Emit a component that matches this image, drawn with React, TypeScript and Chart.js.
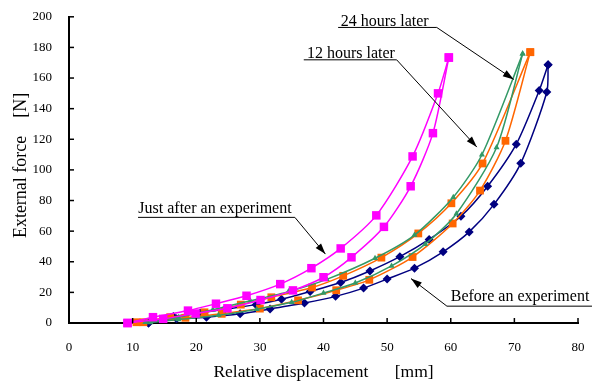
import React, { useEffect, useRef } from 'react';
import { Chart, registerables } from 'chart.js';

Chart.register(...registerables);

// ---- Data (x: relative displacement [mm], y: external force [N]) ----
const justAfterUpper: [number, number][] = [
  [9.2, 0], [13.2, 3.8], [18.7, 8.1], [23.1, 12.6], [27.9, 17.8], [33.2, 25.4],
  [38.1, 35.8], [42.7, 48.7], [48.3, 70.3], [54.0, 108.8], [58.0, 150], [59.7, 173.4],
];
const justAfterLower: [number, number][] = [
  [9.2, 0], [14.8, 2.7], [19.9, 6.2], [24.9, 9.6], [30.1, 15.0], [35.2, 21.3],
  [40.0, 29.9], [44.4, 42.9], [49.5, 62.8], [53.7, 89.3], [57.2, 124], [59.7, 173.4],
];
const hours12Upper: [number, number][] = [
  [10.6, 0.5], [15.9, 3.8], [21.3, 7.0], [27.0, 12.0], [31.8, 16.8], [38.2, 23.2],
  [43.1, 30.8], [49.1, 42.7], [54.9, 58.5], [60.1, 78.2], [65.0, 104.2], [72.5, 176.9],
];
const hours12Lower: [number, number][] = [
  [11.7, 0.5], [18.3, 3.4], [24.0, 6.0], [30.0, 9.4], [36.0, 14.8], [42.0, 21.4],
  [47.2, 28.2], [54.0, 43.1], [60.3, 65.0], [64.6, 86.5], [68.6, 119.0], [72.5, 176.9],
];
const hours24Upper: [number, number][] = [
  [12.0, 0.5], [17.2, 3.8], [22.6, 8.7], [28.5, 14.5], [34.5, 20.5], [40.5, 28.5],
  [48.1, 42.3], [54.3, 57.4], [60.4, 82.2], [64.9, 109.9], [71.3, 175.8],
];
const hours24Lower: [number, number][] = [
  [12.8, 0.3], [17.2, 2.3], [23.5, 5.0], [29.5, 9.0], [35.0, 13.5], [40.0, 19.6],
  [45.0, 26.1], [50.7, 37.3], [56.0, 51.5], [60.9, 71.4], [67.2, 114.6], [71.3, 175.8],
];
const beforeUpper: [number, number][] = [
  [12.5, 0], [16.4, 4.2], [20.6, 6.6], [24.5, 9.0], [29.4, 12.0], [33.4, 15.5],
  [37.9, 20.6], [42.7, 26.5], [47.3, 34.0], [52.0, 43.3], [56.6, 54.6], [61.6, 69.7],
  [65.8, 89.3], [70.3, 116.8], [73.9, 151.8], [75.3, 168.7],
];
const beforeLower: [number, number][] = [
  [12.5, 0], [16.9, 2.7], [21.6, 3.8], [26.9, 6.0], [31.6, 9.2], [37.0, 13.1],
  [41.9, 17.4], [46.3, 22.8], [50.0, 28.7], [54.3, 35.8], [58.8, 46.5], [62.9, 59.5],
  [66.8, 77.5], [71.0, 104.3], [75.1, 150.9], [75.3, 168.7],
];

const xMin = 0, xMax = 80, xStep = 10;
const yMin = 0, yMax = 200, yStep = 20;

const xTitle = 'Relative displacement      [mm]';
const yTitle = '  External force    [N]';

// Callout labels: text anchored in data units, arrow tip in data units
const callouts = [
  { text: '24 hours later', tx: 42.7, ty: 194.2, uy: 193.05, ux0: 42.3, ux1: 57.8, from: 'right', tipX: 69.9, tipY: 159.1 },
  { text: '12 hours later', tx: 37.4, ty: 172.9, uy: 171.9, ux0: 36.9, ux1: 51.5, from: 'right', tipX: 64.1, tipY: 114.9 },
  { text: 'Just after an experiment', tx: 10.9, ty: 71.9, uy: 69.0, ux0: 10.85, ux1: 35.5, from: 'right', tipX: 40.3, tipY: 45.0 },
  { text: 'Before an experiment', tx: 60.0, ty: 14.6, uy: 11.0, ux0: 59.4, ux1: 82.2, from: 'left', tipX: 53.75, tipY: 29.0 },
];

const SERIF = '"Liberation Serif", "Times New Roman", serif';

const MAGENTA = '#FF00FF';
const ORANGE = '#FF6600';
const GREEN = '#339966';
const NAVY = '#000080';

function series(data: [number, number][], color: string, style: string, radius: number) {
  return {
    data: data.map(([x, y]) => ({ x, y })),
    borderColor: color,
    backgroundColor: color,
    pointBackgroundColor: color,
    pointBorderColor: color,
    pointStyle: style,
    pointRadius: radius,
    pointBorderWidth: 0,
    borderWidth: 1.5,
    showLine: true,
    tension: 0.25,
    clip: false as const,
  };
}

const overlayPlugin = {
  id: 'overlay',
  afterDraw(chart: any) {
    const { ctx, chartArea } = chart;
    const xs = chart.scales.x;
    const ys = chart.scales.y;
    ctx.save();
    // inward tick marks
    ctx.strokeStyle = '#000';
    ctx.lineWidth = 1.5;
    xs.ticks.forEach((t: any) => {
      const px = xs.getPixelForValue(t.value);
      ctx.beginPath();
      ctx.moveTo(px, chartArea.bottom);
      ctx.lineTo(px, chartArea.bottom - 5);
      ctx.stroke();
    });
    ys.ticks.forEach((t: any) => {
      const py = ys.getPixelForValue(t.value);
      ctx.beginPath();
      ctx.moveTo(chartArea.left, py);
      ctx.lineTo(chartArea.left + 5, py);
      ctx.stroke();
    });
    // callouts
    ctx.font = `16px ${SERIF}`;
    ctx.fillStyle = '#000';
    ctx.textBaseline = 'alphabetic';
    ctx.textAlign = 'left';
    ctx.lineWidth = 1;
    callouts.forEach((c) => {
      ctx.fillText(c.text, xs.getPixelForValue(c.tx), ys.getPixelForValue(c.ty));
      const uy = ys.getPixelForValue(c.uy);
      const x0 = xs.getPixelForValue(c.ux0);
      const x1 = xs.getPixelForValue(c.ux1);
      ctx.beginPath();
      ctx.moveTo(x0, uy);
      ctx.lineTo(x1, uy);
      ctx.stroke();
      const sx = c.from === 'right' ? x1 : x0;
      const tx = xs.getPixelForValue(c.tipX);
      const ty = ys.getPixelForValue(c.tipY);
      ctx.beginPath();
      ctx.moveTo(sx, uy);
      ctx.lineTo(tx, ty);
      ctx.stroke();
      const ang = Math.atan2(ty - uy, tx - sx);
      const len = 11, hw = 3.5;
      const bx = tx - len * Math.cos(ang);
      const by = ty - len * Math.sin(ang);
      ctx.beginPath();
      ctx.moveTo(tx, ty);
      ctx.lineTo(bx + hw * Math.sin(ang), by - hw * Math.cos(ang));
      ctx.lineTo(bx - hw * Math.sin(ang), by + hw * Math.cos(ang));
      ctx.closePath();
      ctx.fill();
    });
    ctx.restore();
  },
};

export default function App() {
  const ref = useRef<HTMLCanvasElement | null>(null);
  useEffect(() => {
    document.body.style.margin = '0';
    if (!ref.current) return;
    Chart.defaults.font.family = SERIF;
    const chart = new Chart(ref.current, {
      type: 'scatter',
      data: {
        datasets: [
          series(justAfterUpper, MAGENTA, 'rect', 6),
          series(justAfterLower, MAGENTA, 'rect', 6),
          series(hours24Upper, GREEN, 'triangle', 3.5),
          series(hours24Lower, GREEN, 'triangle', 3.5),
          series(hours12Upper, ORANGE, 'rect', 5.5),
          series(hours12Lower, ORANGE, 'rect', 5.5),
          series(beforeUpper, NAVY, 'rectRot', 4.5),
          series(beforeLower, NAVY, 'rectRot', 4.5),
        ] as any,
      },
      options: {
        animation: false,
        responsive: false,
        maintainAspectRatio: false,
        layout: { padding: { left: 0, top: 15, right: 20, bottom: 0 } },
        plugins: { legend: { display: false }, tooltip: { enabled: false } },
        scales: {
          x: {
            type: 'linear',
            min: xMin,
            max: xMax,
            ticks: { stepSize: xStep, color: '#000', padding: 9, font: { size: 13, family: SERIF } },
            grid: { display: false },
            border: { display: true, color: '#000', width: 2 },
            title: { display: true, text: xTitle, color: '#000', font: { size: 17.5, family: SERIF }, padding: { top: 0, bottom: 0 } },
            afterFit: (s: any) => { s.height = 60; },
          },
          y: {
            type: 'linear',
            min: yMin,
            max: yMax,
            ticks: { stepSize: yStep, color: '#000', padding: 9, font: { size: 13, family: SERIF } },
            grid: { display: false },
            border: { display: true, color: '#000', width: 2 },
            title: { display: true, text: yTitle, color: '#000', font: { size: 18, family: SERIF }, padding: { top: 10, bottom: 0 } },
            afterFit: (s: any) => { s.width = 69; },
          },
        },
      } as any,
      plugins: [overlayPlugin],
    });
    return () => chart.destroy();
  }, []);
  return <canvas ref={ref} width={598} height={383} style={{ display: 'block', width: 598, height: 383 }} />;
}
